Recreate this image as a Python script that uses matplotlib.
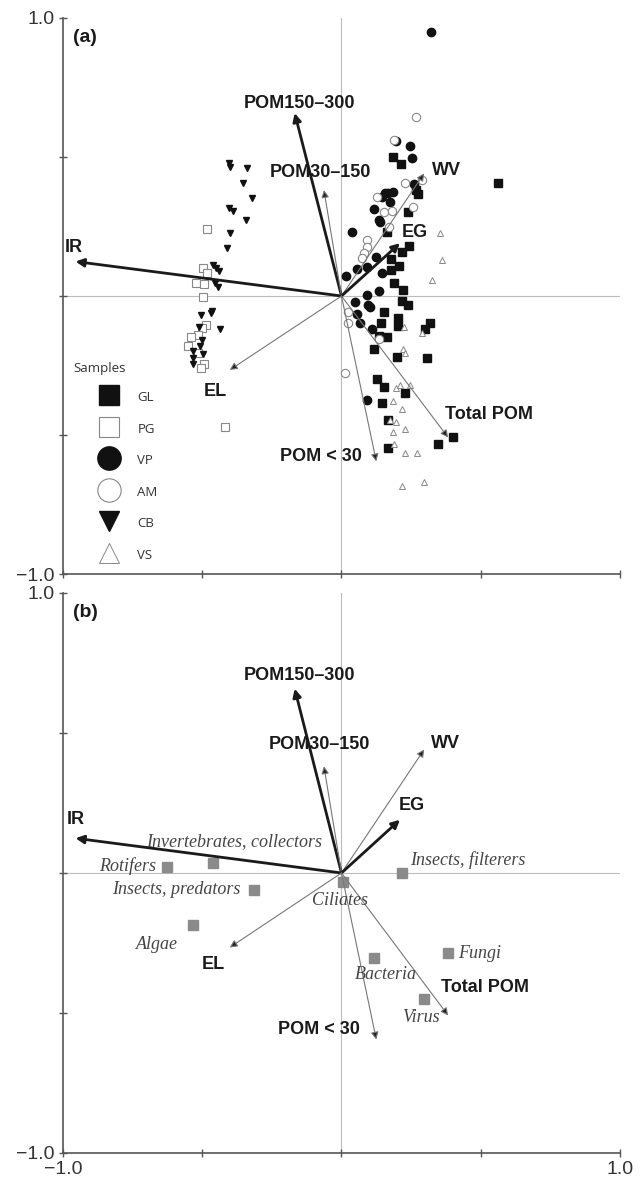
import matplotlib
matplotlib.use('Agg')
import matplotlib.pyplot as plt

# ---------------- data ----------------
# environmental vectors (tips)
vec_names = ['IR', 'POM150–300', 'POM30–150', 'WV', 'EG', 'EL', 'POM < 30', 'Total POM']
vec_x = [-0.955, -0.168, -0.063, 0.297, 0.210, -0.401, 0.125, 0.383]
vec_y = [0.124, 0.658, 0.381, 0.441, 0.190, -0.266, -0.595, -0.509]
vec_bold = [True, True, False, False, True, False, False, False]

# label anchor positions for vectors in panel a and b
lab_a_x = [-0.993, -0.150, -0.075, 0.326, 0.215, -0.495, 0.075, 0.373]
lab_a_y = [0.176, 0.694, 0.446, 0.453, 0.230, -0.345, -0.579, -0.428]
lab_b_x = [-0.988, -0.151, -0.078, 0.323, 0.206, -0.501, 0.066, 0.358]
lab_b_y = [0.190, 0.705, 0.458, 0.464, 0.240, -0.326, -0.558, -0.409]
lab_ha = ['left', 'center', 'center', 'left', 'left', 'left', 'right', 'left']

# samples (panel a)
GL_x = [0.186, 0.215, 0.269, 0.276, 0.563, 0.240, 0.165, 0.244, 0.219, 0.179, 0.208, 0.179,
        0.190, 0.222, 0.219, 0.240, 0.154, 0.143, 0.204, 0.204, 0.319, 0.301, 0.133, 0.165,
        0.118, 0.201, 0.308, 0.129, 0.154, 0.229, 0.147, 0.168, 0.401, 0.348, 0.168]
GL_y = [0.500, 0.475, 0.381, 0.367, 0.406, 0.302, 0.230, 0.180, 0.158, 0.133, 0.108, 0.094,
        0.047, 0.022, -0.018, -0.032, -0.058, -0.097, -0.079, -0.108, -0.097, -0.119, -0.144, -0.147,
        -0.191, -0.219, -0.223, -0.299, -0.327, -0.349, -0.385, -0.446, -0.507, -0.532, -0.547]

PG_x = [-0.484, -0.498, -0.484, -0.523, -0.495, -0.498, -0.487, -0.502, -0.516, -0.541,
        -0.552, -0.516, -0.495, -0.505, -0.419]
PG_y = [0.241, 0.101, 0.083, 0.047, 0.043, -0.004, -0.104, -0.115, -0.140, -0.147,
        -0.180, -0.205, -0.245, -0.259, -0.471]

VP_x = [0.323, 0.247, 0.254, 0.262, 0.158, 0.147, 0.168, 0.186, 0.176, 0.115, 0.133, 0.140,
        0.039, 0.125, 0.093, 0.057, 0.018, 0.147, 0.136, 0.093, 0.194, 0.050, 0.097, 0.104,
        0.054, 0.065, 0.111, 0.093]
VP_y = [0.950, 0.540, 0.496, 0.403, 0.371, 0.356, 0.371, 0.374, 0.338, 0.313, 0.273, 0.266,
        0.230, 0.140, 0.104, 0.097, 0.072, 0.083, 0.018, 0.004, 0.558, -0.022, -0.032, -0.040,
        -0.065, -0.097, -0.119, -0.374]

AM_x = [0.269, 0.190, 0.229, 0.290, 0.129, 0.154, 0.183, 0.258, 0.172, 0.090, 0.093, 0.082,
        0.072, 0.025, 0.022, 0.133, 0.014]
AM_y = [0.644, 0.561, 0.406, 0.417, 0.356, 0.302, 0.306, 0.320, 0.248, 0.201, 0.176, 0.155,
        0.137, -0.058, -0.097, -0.155, -0.277]

CB_x = [-0.405, -0.401, -0.341, -0.355, -0.323, -0.405, -0.391, -0.344, -0.401, -0.412,
        -0.462, -0.452, -0.441, -0.455, -0.444, -0.505, -0.470, -0.466, -0.513, -0.437,
        -0.502, -0.534, -0.509, -0.498, -0.534, -0.534]
CB_y = [0.478, 0.464, 0.460, 0.406, 0.353, 0.317, 0.306, 0.273, 0.227, 0.173,
        0.112, 0.101, 0.090, 0.047, 0.032, -0.068, -0.061, -0.054, -0.112, -0.119,
        -0.158, -0.198, -0.180, -0.209, -0.223, -0.245]

VS_x = [0.355, 0.362, 0.326, 0.226, 0.290, 0.222, 0.229, 0.197, 0.211, 0.247, 0.186,
        0.219, 0.194, 0.176, 0.229, 0.186, 0.190, 0.229, 0.272, 0.219, 0.297]
VS_y = [0.227, 0.129, 0.058, -0.112, -0.133, -0.191, -0.205, -0.331, -0.320, -0.320, -0.378,
        -0.406, -0.453, -0.446, -0.478, -0.489, -0.532, -0.565, -0.565, -0.683, -0.669]

# taxa (panel b)
taxa = ['Invertebrates, collectors', 'Rotifers', 'Insects, filterers', 'Insects, predators',
        'Ciliates', 'Algae', 'Bacteria', 'Fungi', 'Virus']
taxa_x = [-0.460, -0.628, 0.218, -0.313, 0.007, -0.534, 0.117, 0.383, 0.298]
taxa_y = [0.036, 0.021, 0.000, -0.061, -0.031, -0.186, -0.305, -0.286, -0.451]
taxa_lab_x = [-0.702, -0.665, 0.245, -0.363, -0.007, -0.661, 0.161, 0.417, 0.284]
taxa_lab_y = [0.113, 0.026, 0.045, -0.060, -0.099, -0.254, -0.362, -0.286, -0.517]
taxa_ha = ['left', 'right', 'left', 'right', 'center', 'center', 'center', 'left', 'center']

ticks = [-1.0, -0.5, 0.0, 0.5, 1.0]

# ---------------- figure ----------------
fig = plt.figure(figsize=(6.42, 11.84), dpi=100)
ax_a = fig.add_axes([0.0981, 0.5152, 0.8676, 0.4696])
ax_b = fig.add_axes([0.0981, 0.0262, 0.8676, 0.4730])

BOLD = dict(family='Liberation Sans', weight='bold', fontsize=13, color='#1a1a1a')


def style_axes(ax, show_x):
    ax.set_xlim(-1, 1)
    ax.set_ylim(-1, 1)
    for s in ['top', 'right']:
        ax.spines[s].set_visible(False)
    for s in ['left', 'bottom']:
        ax.spines[s].set_color('#555555')
        ax.spines[s].set_linewidth(1.2)
    ax.set_xticks(ticks)
    ax.set_yticks(ticks)
    ax.set_yticklabels(['−1.0', '', '', '', '1.0'])
    if show_x:
        ax.set_xticklabels(['−1.0', '', '', '', '1.0'])
    else:
        ax.set_xticklabels(['', '', '', '', ''])
    ax.tick_params(direction='inout', length=6, width=1, colors='#555555',
                   labelcolor='#333333', labelsize=14, pad=3)
    for lab in ax.get_xticklabels() + ax.get_yticklabels():
        lab.set_family('Liberation Sans')
    ax.axhline(0, color='#bbbbbb', lw=0.8, zorder=0)
    ax.axvline(0, color='#bbbbbb', lw=0.8, zorder=0)


def draw_vectors(ax, lx, ly):
    for name, x, y, b, tx, ty, ha in zip(vec_names, vec_x, vec_y, vec_bold, lx, ly, lab_ha):
        if b:
            props = dict(arrowstyle='-|>', lw=2.0, color='#1a1a1a',
                         shrinkA=0, shrinkB=0, mutation_scale=12)
        else:
            props = dict(arrowstyle='-|>', lw=0.8, edgecolor='#777777', facecolor='#222222',
                         shrinkA=0, shrinkB=0, mutation_scale=11)
        ax.annotate('', xy=(x, y), xytext=(0, 0), arrowprops=props, zorder=4)
        ax.text(tx, ty, name, ha=ha, va='center', zorder=5, **BOLD)


style_axes(ax_a, False)
style_axes(ax_b, True)

# ---- panel a ----
h_gl, = ax_a.plot(GL_x, GL_y, 's', ms=5.2, mfc='#111111', mec='#111111', ls='none', label='GL', zorder=3)
h_pg, = ax_a.plot(PG_x, PG_y, 's', ms=5.2, mfc='white', mec='#888888', mew=0.8, ls='none', label='PG', zorder=3)
h_vp, = ax_a.plot(VP_x, VP_y, 'o', ms=6.0, mfc='#111111', mec='#111111', ls='none', label='VP', zorder=3)
h_am, = ax_a.plot(AM_x, AM_y, 'o', ms=6.0, mfc='white', mec='#888888', mew=0.8, ls='none', label='AM', zorder=3)
h_cb, = ax_a.plot(CB_x, CB_y, 'v', ms=5, mfc='#111111', mec='#111111', ls='none', label='CB', zorder=3)
h_vs, = ax_a.plot(VS_x, VS_y, '^', ms=5, mfc='white', mec='#888888', mew=0.7, ls='none', label='VS', zorder=3)

draw_vectors(ax_a, lab_a_x, lab_a_y)
ax_a.text(0.018, 0.965, '(a)', transform=ax_a.transAxes, family='Liberation Sans',
          weight='bold', fontsize=14, color='#1a1a1a', va='center', ha='left')

ax_a.text(0.018, 0.370, 'Samples', transform=ax_a.transAxes, family='Open Sans',
          fontsize=9.5, color='#333333', va='center', ha='left')
leg = ax_a.legend(handles=[h_gl, h_pg, h_vp, h_am, h_cb, h_vs], loc='upper left',
                  bbox_to_anchor=(0.044, 0.344), frameon=False, markerscale=2.8,
                  prop=dict(family='Open Sans', size=9.5), labelspacing=1.23,
                  handlelength=2.2, handleheight=1.4, handletextpad=1.08, borderpad=0)
for t in leg.get_texts():
    t.set_color('#333333')

# ---- panel b ----
ax_b.plot(taxa_x, taxa_y, 's', ms=7.5, mfc='#8a8a8a', mec='#8a8a8a', ls='none', zorder=3)
draw_vectors(ax_b, lab_b_x, lab_b_y)
for name, tx, ty, ha in zip(taxa, taxa_lab_x, taxa_lab_y, taxa_ha):
    ax_b.text(tx, ty, name, ha=ha, va='center', family='Liberation Serif', style='italic',
              fontsize=13, color='#444444', zorder=5)
ax_b.text(0.018, 0.965, '(b)', transform=ax_b.transAxes, family='Liberation Sans',
          weight='bold', fontsize=14, color='#1a1a1a', va='center', ha='left')

fig.savefig('out.png', dpi=100)
